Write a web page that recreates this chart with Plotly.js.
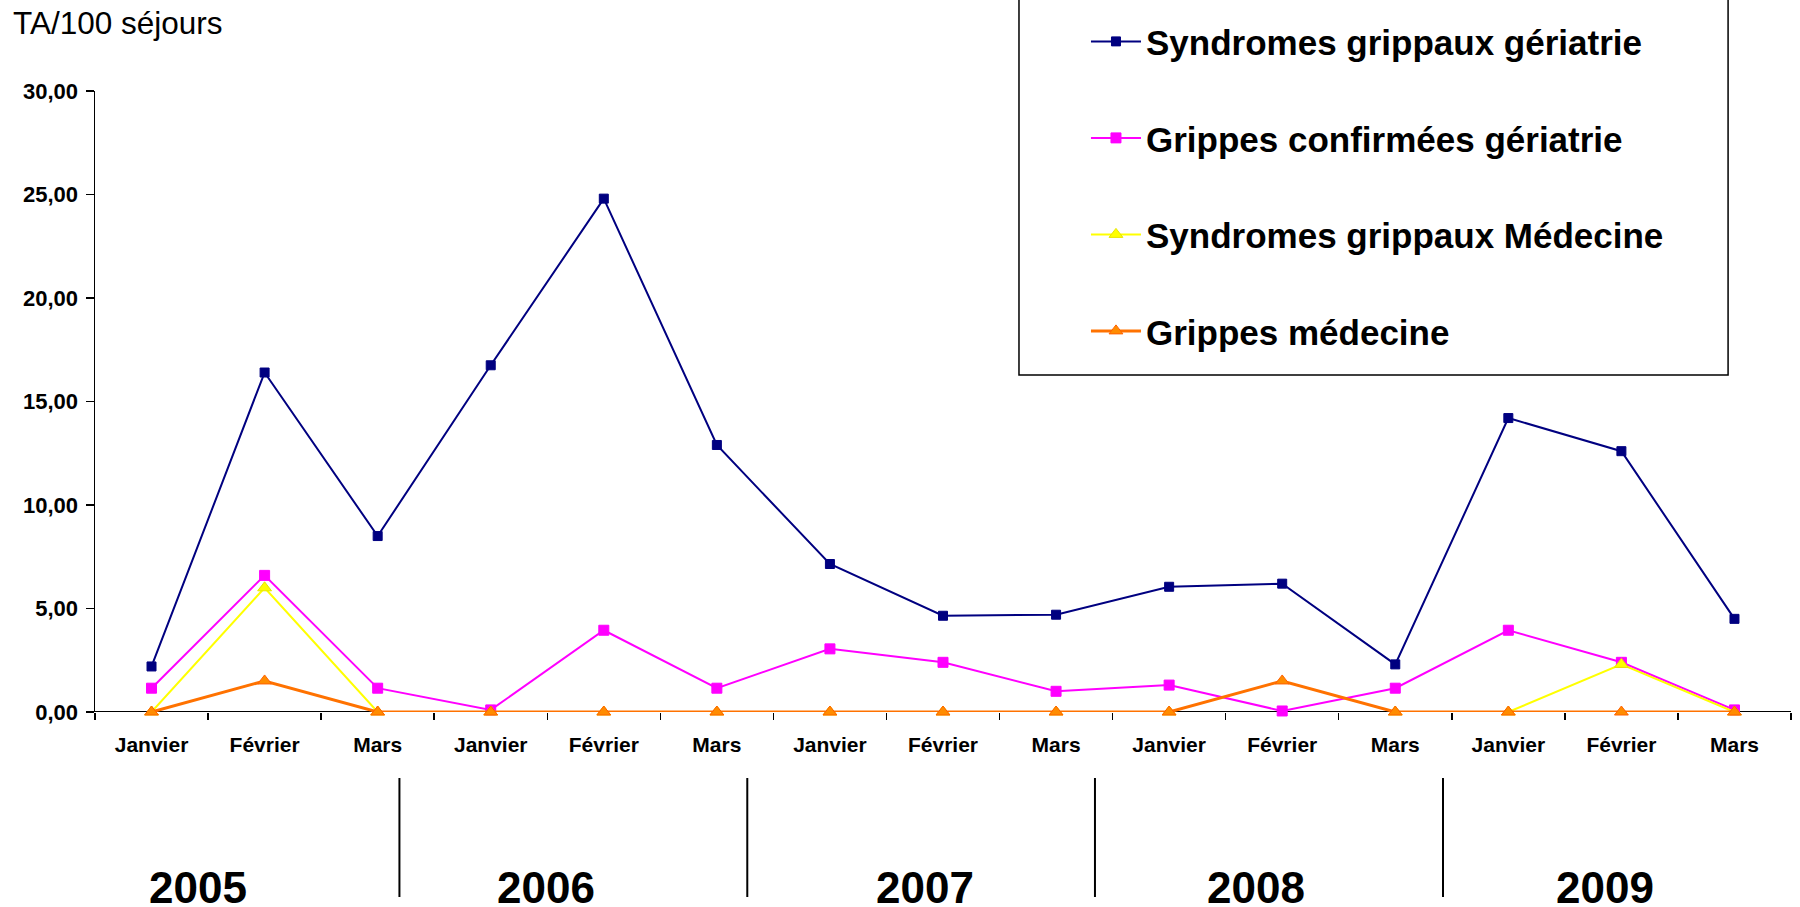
<!DOCTYPE html>
<html>
<head>
<meta charset="utf-8">
<script src="https://cdn.plot.ly/plotly-3.0.1.min.js"></script>
<style>html,body{margin:0;padding:0;background:#fff;}#chart{width:1800px;height:907px;}</style>
</head>
<body>
<div id="chart"></div>
<script>
// ---- data ----
var years = ['2005', '2006', '2007', '2008', '2009'];
var months = ['Janvier', 'Février', 'Mars'];
var seriesNames = [
  'Syndromes grippaux gériatrie',
  'Grippes confirmées gériatrie',
  'Syndromes grippaux Médecine',
  'Grippes médecine'
];
var syndromesGeriatrie = [2.2, 16.4, 8.5, 16.75, 24.8, 12.9, 7.15, 4.65, 4.7, 6.05, 6.2, 2.3, 14.2, 12.6, 4.5];
var grippesConfGeriatrie = [1.15, 6.6, 1.15, 0.1, 3.95, 1.15, 3.05, 2.4, 1.0, 1.3, 0.05, 1.15, 3.95, 2.4, 0.1];
var syndromesMedecine = [0, 6.0, 0, 0, 0, 0, 0, 0, 0, 0, null, 0, 0, 2.3, 0];
var grippesMedecine = [0, 1.5, 0, 0, 0, 0, 0, 0, 0, 0, 1.5, 0, 0, 0, 0];
var yTitle = 'TA/100 séjours';

// ---- build categories ----
var cats = [], catLabels = [];
years.forEach(function (y) {
  months.forEach(function (m) { cats.push(m + ' ' + y); catLabels.push(m); });
});

var FONT = 'Liberation Sans, Arial, sans-serif';

function mk(name, vals, color, symbol, msize, lw, mfill, mline, grp) {
  return {
    type: 'scatter', mode: 'lines+markers', name: name,
    x: cats, y: vals, cliponaxis: false, connectgaps: false,
    legendgroup: grp,
    line: {color: color, width: lw},
    marker: {symbol: symbol, size: msize, color: mfill, line: {color: mline, width: 1}}
  };
}

var traces = [
  mk(seriesNames[0], syndromesGeriatrie, '#000080', 'square', 9, 2, '#000080', '#000080', 'g1'),
  mk(seriesNames[1], grippesConfGeriatrie, '#FF00FF', 'square', 10, 2, '#FF00FF', '#FF00FF', 'g2'),
  mk(seriesNames[2], syndromesMedecine, '#FFFF00', 'triangle-up', 12, 2, '#FFFF00', '#E6E600', 'g3'),
  mk(seriesNames[3], grippesMedecine, '#FF7200', 'triangle-up', 12, 3, '#FF8C00', '#FF6000', 'g4')
];

// layout positions (paper coords)
var sepX = [0.1795, 0.3846, 0.5896, 0.7948];
var yearX = [0.0607, 0.2659, 0.4894, 0.6848, 0.8903];

var shapes = sepX.map(function (x) {
  return {type: 'line', xref: 'paper', yref: 'paper', x0: x, x1: x, y0: -0.1063, y1: -0.2979,
          line: {color: '#000', width: 2}};
});
// x axis baseline drawn beneath the traces
shapes.push({type: 'line', xref: 'paper', yref: 'y', x0: 0, x1: 1, y0: 0, y1: 0,
             line: {color: '#000', width: 2}, layer: 'below'});
shapes.push({type: 'rect', xref: 'paper', yref: 'paper', x0: 0.5448, x1: 0.9629, y0: 0.5427, y1: 1.16,
             line: {color: '#000', width: 1.5}, fillcolor: 'rgba(0,0,0,0)', layer: 'above'});

var annotations = years.map(function (y, i) {
  return {text: y, xref: 'paper', yref: 'paper', x: yearX[i], y: -0.326, xanchor: 'center', yanchor: 'bottom',
          showarrow: false, font: {family: FONT, size: 44, color: '#000', weight: 'bold'}};
});
annotations.push({text: yTitle, xref: 'paper', yref: 'paper', x: -0.0495, y: 1.1095, xanchor: 'left', yanchor: 'middle',
                  showarrow: false, font: {family: FONT, size: 31.5, color: '#000'}});

var layout = {
  width: 1800, height: 907,
  margin: {l: 95, r: 9, t: 91, b: 195, autoexpand: false},
  paper_bgcolor: '#fff', plot_bgcolor: '#fff',
  separators: ', ',
  showlegend: true,
  font: {family: FONT, color: '#000'},
  xaxis: {
    type: 'category', categoryorder: 'array', categoryarray: cats,
    tickmode: 'array', tickvals: cats, ticktext: catLabels,
    tickson: 'boundaries', ticks: 'outside', ticklen: 7, tickwidth: 1.5, tickcolor: '#000',
    showline: false, showgrid: false, zeroline: false,
    range: [-0.5, 14.5], layer: 'below traces', ticklabelstandoff: 18,
    tickfont: {family: FONT, size: 21, color: '#000', weight: 'bold'}
  },
  yaxis: {
    range: [0, 30], dtick: 5, tick0: 0, tickformat: '.2f',
    ticks: 'outside', ticklen: 8, tickwidth: 1.5, tickcolor: '#000',
    showline: true, linecolor: '#000', linewidth: 1.5, showgrid: false, zeroline: false,
    ticklabelstandoff: 3,
    tickfont: {family: FONT, size: 22, color: '#000', weight: 'bold'}
  },
  legend: {
    x: 0.5843, xanchor: 'left', y: 1.127, yanchor: 'top',
    bgcolor: 'rgba(0,0,0,0)', borderwidth: 0,
    traceorder: 'grouped', tracegroupgap: 48, itemwidth: 50,
    font: {family: FONT, size: 35, color: '#000', weight: 'bold'}
  },
  shapes: shapes,
  annotations: annotations
};

Plotly.newPlot('chart', traces, layout, {displayModeBar: false, staticPlot: true});
</script>
</body>
</html>
